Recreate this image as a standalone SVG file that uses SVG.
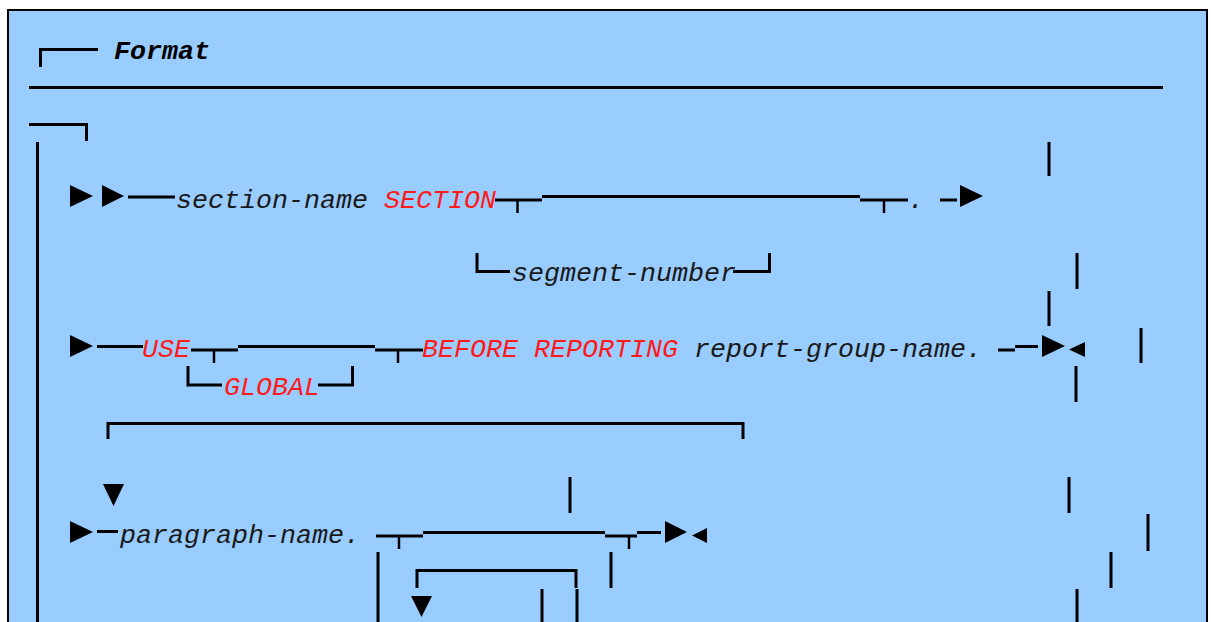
<svg xmlns="http://www.w3.org/2000/svg" width="1211" height="622" viewBox="0 0 1211 622">
<style>
.ln{fill:none;stroke:#000;stroke-width:3;stroke-linecap:butt;stroke-linejoin:miter}
.tk{fill:none;stroke:#000;stroke-width:2.5}
.tx{font-family:"Liberation Mono","Courier New",monospace;font-style:italic;font-size:26.67px;fill:#1a1a1a}
.kw{fill:#ff1a1a}
.tt{font-weight:bold;fill:#000}
.ar{fill:#000}
</style>
<rect x="0" y="0" width="1211" height="622" fill="#fff"/>
<rect x="8" y="10" width="1199" height="620" fill="#99ccff" stroke="#000" stroke-width="2"/>
<g id="connectors">
<path class="ln" d="M40.5,67 V49.5 H98"/>
<path class="ln" d="M29,87.5 H1163"/>
<path class="ln" d="M29,124.5 H86.5 V141"/>
<path class="ln" d="M37.5,142 V622"/>
<path class="ln" d="M1049,142 V176 M1049,291 V326"/>
<path class="ln" d="M128,197 H175"/>
<path class="ln" d="M495,200 H542 M542,196.5 H860 M860,200 H908 M940,200 H957"/>
<path class="tk" d="M517.5,200 V213 M884,200 V213"/>
<path class="ln" d="M477,253 V271.5 H510 M733,271.5 H769.5 V253"/>
<path class="ln" d="M1077,253 V289"/>
<path class="ln" d="M97,346.5 H143 M191,350 H238 M238,346.5 H375 M375,350 H423 M998,350 H1015 M1015,346.5 H1038"/>
<path class="tk" d="M214,350 V363 M398,350 V363"/>
<path class="ln" d="M1141,328 V363 M1076,366 V402"/>
<path class="ln" d="M188,366 V385 H222 M318,385 H352.5 V366"/>
<path class="ln" d="M108,439 V423.5 H743 V439"/>
<path class="ln" d="M570,477 V513 M1069,477 V513"/>
<path class="ln" d="M97,531.5 H118 M376,536 H423 M423,532.5 H605 M605,536 H637 M637,532.5 H661"/>
<path class="tk" d="M399,536 V549 M629,536 V549"/>
<path class="ln" d="M378,552 V622 M611,552 V588 M1148,514 V551 M1111,552 V588 M1077,589 V622"/>
<path class="ln" d="M417,588 V570.5 H576 V588"/>
<path class="ln" d="M542,589 V622 M577,589 V622"/>
</g>
<g id="arrows">
<polygon class="ar" points="70,185 93,196 70,207"/>
<polygon class="ar" points="102,185 124,196 102,207"/>
<polygon class="ar" points="960,185 983,196 960,207"/>
<polygon class="ar" points="70,335 93,346 70,357"/>
<polygon class="ar" points="1042,335 1065,346 1042,357"/>
<polygon class="ar" points="1085,342 1069,349.5 1085,357"/>
<polygon class="ar" points="103,484 124,484 113.5,506"/>
<polygon class="ar" points="70,521 93,532 70,543"/>
<polygon class="ar" points="665,521 687,532 665,543"/>
<polygon class="ar" points="707,528 692,535.5 707,543"/>
<polygon class="ar" points="411,596 432,596 421.5,617"/>
</g>
<g id="title"><text class="tx tt" x="114" y="59">Format</text></g>
<g id="section-name"><text class="tx" x="176" y="207.5">section-name <tspan class="kw">SECTION</tspan></text></g>
<g id="period-1"><text class="tx" x="908" y="207.5">.</text></g>
<g id="segment-number"><text class="tx" x="512" y="281">segment-number</text></g>
<g id="use"><text class="tx kw" x="142" y="357">USE</text></g>
<g id="global"><text class="tx kw" x="224" y="395">GLOBAL</text></g>
<g id="before-reporting"><text class="tx" x="422" y="357"><tspan class="kw">BEFORE REPORTING</tspan> report-group-name.</text></g>
<g id="paragraph-name"><text class="tx" x="120" y="543">paragraph-name.</text></g>
</svg>
